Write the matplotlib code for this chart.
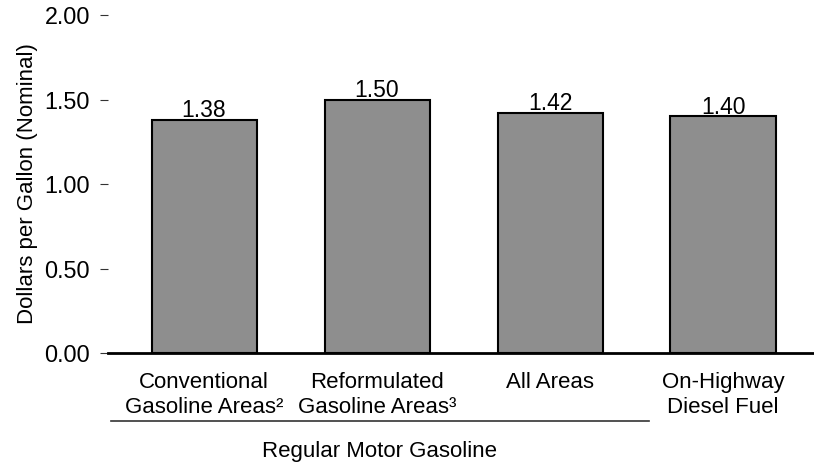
import matplotlib.pyplot as plt
from matplotlib.transforms import blended_transform_factory

plt.rcParams['font.family'] = ['Liberation Sans', 'DejaVu Sans']

# data
categories = ["Conventional\nGasoline Areas\u00b2",
              "Reformulated\nGasoline Areas\u00b3",
              "All Areas",
              "On-Highway\nDiesel Fuel"]
prices = [1.38, 1.50, 1.42, 1.40]
y_ticks = [0.0, 0.5, 1.0, 1.5, 2.0]
group_label = "Regular Motor Gasoline"
group_members = [0, 1, 2]   # bars covered by the group bracket

W, H = 814, 463
fig = plt.figure(figsize=(W / 100, H / 100), dpi=100)
# axes placed in pixel terms: left edge 108, baseline y=353, 2.00 at y=15
ax = fig.add_axes([108 / W, (H - 353) / H, (W - 108) / W, 338 / H])

x = list(range(len(categories)))
ax.bar(x, prices, width=0.607, color="#8e8e8e", edgecolor="black",
       linewidth=1.5, zorder=2)

for xi, v in zip(x, prices):
    ax.annotate(f"{v:.2f}", (xi, v), xytext=(0, 2), textcoords="offset points",
                ha="center", va="baseline", fontsize=16.5)

ax.set_xlim(-0.555, 3.526)
ax.set_ylim(0, 2.0)
ax.set_yticks(y_ticks)
ax.set_yticklabels([f"{t:.2f}" for t in y_ticks], fontsize=16.8)
ax.tick_params(axis="y", length=6, width=0.8, color="#333333", pad=7)

ax.set_xticks(x)
ax.set_xticklabels(categories, fontsize=16, linespacing=1.25)
ax.tick_params(axis="x", length=0, pad=13.5)

for s in ["left", "top", "right"]:
    ax.spines[s].set_visible(False)
ax.spines["bottom"].set_linewidth(2)
ax.spines["bottom"].set_zorder(3)

ax.set_ylabel("Dollars per Gallon (Nominal)", fontsize=16)
ax.yaxis.set_label_coords(-0.099, 0.5)

# group bracket under the gasoline categories
trans = blended_transform_factory(ax.transData, ax.transAxes)
x0 = group_members[0] - 0.54
x1 = group_members[-1] + 0.57
ax.plot([x0, x1], [-0.201, -0.201], transform=trans, color="#333333",
        linewidth=1.2, clip_on=False)
ax.text((x0 + x1) / 2, -0.308, group_label, transform=trans,
        ha="center", va="baseline", fontsize=16)

fig.savefig("out.png", dpi=100)
